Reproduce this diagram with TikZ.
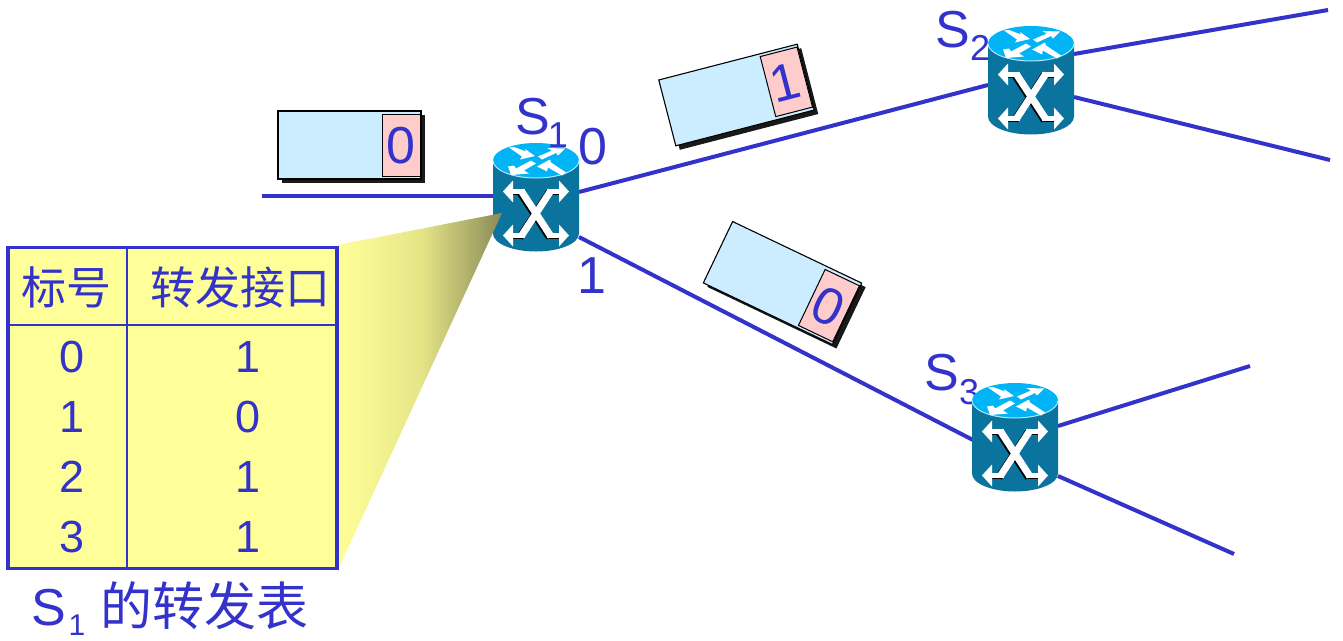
\documentclass[tikz,border=0pt]{standalone}
\usepackage{fontspec}
\setmainfont{Liberation Sans}
\newfontfamily\cjk{Noto Sans CJK SC}
\usetikzlibrary{calc}
\definecolor{ink}{HTML}{3333CC}
\definecolor{routerbody}{HTML}{0A749F}
\definecolor{routertop}{HTML}{00B4F5}
\definecolor{tablefill}{HTML}{FFFF99}
\definecolor{funnelmid}{HTML}{E6E688}
\definecolor{funnelend}{HTML}{8A8A58}
\definecolor{packetfill}{HTML}{CCECFF}
\definecolor{labelfill}{HTML}{FFCCCC}
\tikzset{
  x=1pt,y=-1pt,
  link/.style={draw=ink,line width=4pt},
  routerbox/.style={minimum width=86pt,minimum height=108pt,inner sep=0pt},
  txt/.style={text=ink,inner sep=0pt,font=\fontsize{45}{45}\selectfont},
  big/.style={text=ink,inner sep=0pt,font=\fontsize{52}{52}\selectfont},
  sub/.style={text=ink,inner sep=0pt,font=\fontsize{36}{36}\selectfont},
  head/.style={text=ink,inner sep=0pt,font=\cjk\fontsize{45}{45}\selectfont},
  packetbody/.style={draw=black,fill=packetfill,line width=1.1pt,minimum width=143pt,minimum height=68pt,inner sep=0pt},
  packetshadow/.style={fill=black!90,minimum width=143pt,minimum height=68pt,inner sep=0pt},
  packetlabel/.style={draw=black,fill=labelfill,line width=1pt,minimum width=38pt,minimum height=62pt,inner sep=0pt,text=ink,
    text height=37pt,text depth=0pt,font=\fontsize{52}{52}\selectfont},
  tablerule/.style={draw=ink,line width=1.2pt},
}
\newcommand{\shaftpath}{(-25,31) -- (-11,31) (11,31) -- (25,31) (-25,75) -- (-11,75) (11,75) -- (25,75)}
\newcommand{\diagpath}{(-15,30) -- (15,76) (-15,76) -- (15,30)}
\newcommand{\routerart}[2]{%
  \begin{scope}[shift={(#1,#2)}]
    \fill[routerbody] (-43,0) -- (-43,73) arc[x radius=43,y radius=18,start angle=180,end angle=0] -- (43,0) -- cycle;
    \fill[routertop] (0,0) ellipse[x radius=43,y radius=17.5];
    \draw[white!70!routertop,line width=1pt] (-43,0) arc[x radius=43,y radius=17.5,start angle=180,end angle=0];
    % side cross
    \begin{scope}[shift={(-1.5,1.2)}]
      \draw[black,line width=7pt] \diagpath;
      \draw[black,line width=5.5pt] \shaftpath;
    \end{scope}
    \draw[white,line width=5.5pt] \shaftpath;
    \draw[white,line width=7pt] \diagpath;
    \fill[white] (-33,31) -- (-23,20) -- (-23,42) -- cycle
                 (33,31) -- (23,20) -- (23,42) -- cycle
                 (-33,75) -- (-23,64) -- (-23,86) -- cycle
                 (33,75) -- (23,64) -- (23,86) -- cycle;
    % top arrows
    \fill[white] (-27,-13) -- (-22,-13.5) -- (-10,-9) -- (-11,-11.5) -- (-1,-4.5) -- (-16,-1) -- (-14,-4) -- cycle
                 (2,-4) -- (16,-10) -- (11,-12.5) -- (29,-12) -- (22,-5) -- (20,-7.5) -- (6,-1) -- cycle
                 (-28,6) -- (-25,14.5) -- (-7,13) -- (-12,10) -- (0,3) -- (-5,0) -- (-20,8) -- (-22,5) -- cycle
                 (1,6) -- (14,-1) -- (15,2) -- (30,12) -- (26,15) -- (12,7) -- (11,11) -- cycle;
  \end{scope}}
\begin{document}
\begin{tikzpicture}
\useasboundingbox (0,0) rectangle (1343,640);
% link end points
\coordinate (in0) at (262,196);
\coordinate (s1in) at (493,196);
\coordinate (s1p0) at (579,192);
\coordinate (s1p1) at (579,237);
\coordinate (s2in) at (988,85);
\coordinate (s3in) at (973,440);
\coordinate (s2o1) at (1074,54);
\coordinate (s2o2) at (1074,97);
\coordinate (s3o1) at (1058,426);
\coordinate (s3o2) at (1058,476);
\coordinate (e21) at (1328,10);
\coordinate (e22) at (1330,160);
\coordinate (e31) at (1250,366);
\coordinate (e32) at (1234,554);
\foreach \a/\b in {in0/s1in,s1p0/s2in,s1p1/s3in,s2o1/e21,s2o2/e22,s3o1/e31,s3o2/e32}
  \path[link] (\a) -- (\b);
% switch labels
\node[big] (s1s) at (533,117) {S};
\node[big] (s2s) at (953,30) {S};
\node[sub] (s2n) at (980,48) {2};
\node[big] (s3s) at (942,373) {S};
\node[sub] (s3n) at (969,392) {3};
\node[big] (port0) at (593,147) {0};
\node[big] (port1) at (592,276) {1};
% switches
\routerart{536}{160.5}
\routerart{1031}{43.5}
\routerart{1015}{400.5}
\node[routerbox] (s1) at (536,197) {};
\node[routerbox] (s2) at (1031,80) {};
\node[routerbox] (s3) at (1015,437) {};
\node[sub] (s1n) at (558,135) {1};
% funnel
\shade[left color=tablefill,right color=funnelend,middle color=funnelmid] (338,245) -- (502,213) -- (338,570) -- cycle;
% table
\node[draw=ink,fill=tablefill,line width=3.8pt,minimum width=329.5pt,minimum height=321pt,inner sep=0pt] (table) at (172.5,408) {};
\coordinate (vt) at (127,249);
\coordinate (vb) at (127,568);
\coordinate (hl) at (9,325);
\coordinate (hr) at (336,325);
\draw[tablerule] (vt) -- (vb);
\draw[tablerule] (hl) -- (hr);
\node[head] (h1) at (66.5,287) {标号};
\node[head] (h2) at (240,287) {转发接口};
\foreach \n/\y/\a/\b in {a/357/0/1,b/417/1/0,c/477/2/1,d/537/3/1}{
  \node[txt] (l\n) at (72,\y) {\a};
  \node[txt] (r\n) at (248,\y) {\b};
}
% caption
\node[big] (caps) at (49,608) {S};
\node[sub,font=\fontsize{30}{30}\selectfont] (cap1) at (77,625) {1};
\node[head,font=\cjk\fontsize{52}{52}\selectfont] (capt) at (204.5,606) {的转发表};
% packets
\node[packetshadow] (p0s) at (353.5,149) {};
\node[packetbody] (p0) at (349.5,145) {};
\node[packetlabel,anchor=east] (p0l) at ($(p0.east)+(-1,0)$) {0};
\node[packetshadow,rotate=14.5] (p1s) at (740.5,99) {};
\node[packetbody,rotate=14.5] (p1) at (736.5,95) {};
\node[packetlabel,anchor=east,rotate=14.5] (p1l) at ($(p1.east)+(-1,0)$) {\hspace*{-3pt}1};
\node[packetshadow,rotate=-25.5] (p2s) at (786.5,287) {};
\node[packetbody,rotate=-25.5] (p2) at (782.5,283) {};
\node[packetlabel,anchor=east,rotate=-25.5] (p2l) at ($(p2.east)+(-1,0)$) {0};
\end{tikzpicture}
\end{document}
